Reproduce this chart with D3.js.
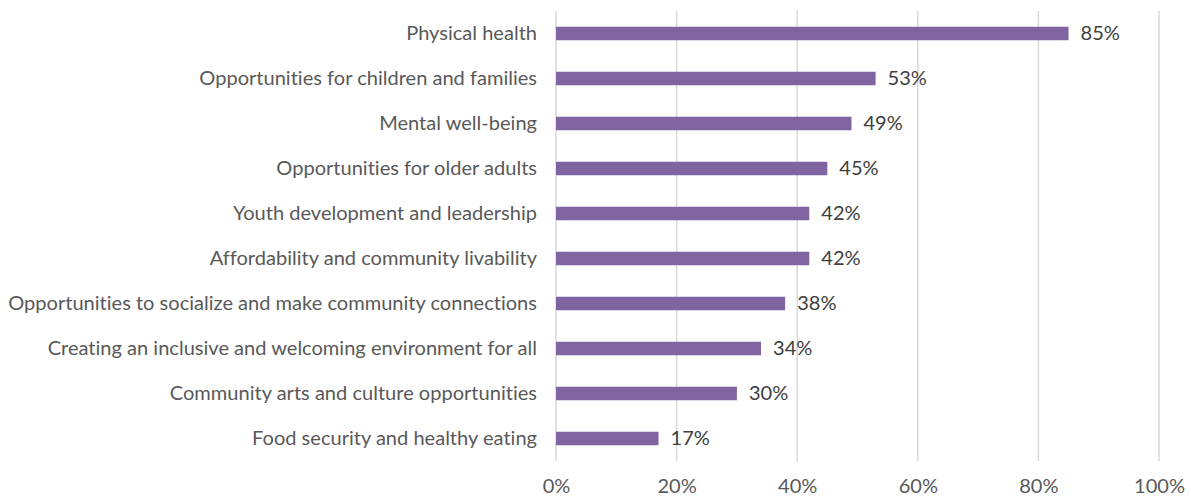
<!DOCTYPE html>
<html>
<head>
<meta charset="utf-8">
<script src="https://cdn.jsdelivr.net/npm/d3@7"></script>
<style>
  html, body { margin: 0; padding: 0; background: #ffffff; }
  svg { display: block; }
  text { font-family: "Lato", "Open Sans", sans-serif; font-variant-ligatures: none; }
</style>
</head>
<body>
<svg id="chart" width="1191" height="499"></svg>
<script>
// Share of respondents choosing each priority area
const categories = [
  "Physical health",
  "Opportunities for children and families",
  "Mental well-being",
  "Opportunities for older adults",
  "Youth development and leadership",
  "Affordability and community livability",
  "Opportunities to socialize and make community connections",
  "Creating an inclusive and welcoming environment for all",
  "Community arts and culture opportunities",
  "Food security and healthy eating"
];
const values = [85, 53, 49, 45, 42, 42, 38, 34, 30, 17];
const tickValues = [0, 20, 40, 60, 80, 100];
const tickLabels = ["0%", "20%", "40%", "60%", "80%", "100%"];

const W = 1191, H = 499;
const margin = { top: 11, right: 32, bottom: 38, left: 556 };
const svg = d3.select("#chart");

const x = d3.scaleLinear().domain([0, 100]).range([margin.left, W - margin.right]);
const y = d3.scaleBand()
  .domain(categories)
  .range([margin.top, H - margin.bottom])
  .paddingInner(0.7)
  .paddingOuter(0.35);

// vertical gridlines
svg.append("g")
  .selectAll("line")
  .data(tickValues)
  .join("line")
  .attr("x1", d => x(d)).attr("x2", d => x(d))
  .attr("y1", margin.top).attr("y2", H - margin.bottom)
  .attr("stroke", "#d9d9d9")
  .attr("stroke-width", 1.5);

// bars
svg.append("g")
  .selectAll("rect")
  .data(values)
  .join("rect")
  .attr("x", x(0))
  .attr("y", (d, i) => y(categories[i]))
  .attr("width", d => x(d) - x(0))
  .attr("height", y.bandwidth())
  .attr("fill", "#8064a2");

// category labels, sized so the longest fits the left margin
const labelG = svg.append("g");
const catText = labelG.selectAll("text")
  .data(categories)
  .join("text")
  .attr("x", margin.left - 19)
  .attr("y", d => y(d) + y.bandwidth() / 2)
  .attr("dy", "0.33em")
  .attr("text-anchor", "end")
  .attr("fill", "#595959")
  .attr("font-size", 17)
  .text(d => d);

let maxW = 0;
catText.each(function () { maxW = Math.max(maxW, this.getComputedTextLength()); });
const fontSize = 17 * 529 / maxW;
catText.attr("font-size", fontSize);

// value labels
svg.append("g")
  .selectAll("text")
  .data(values)
  .join("text")
  .attr("x", d => x(d) + 12)
  .attr("y", (d, i) => y(categories[i]) + y.bandwidth() / 2)
  .attr("dy", "0.33em")
  .attr("fill", "#404040")
  .attr("font-size", fontSize)
  .text(d => d + "%");

// x axis tick labels
const xAxis = d3.axisBottom(x)
  .tickValues(tickValues)
  .tickFormat((d, i) => tickLabels[i])
  .tickSize(0)
  .tickPadding(0);
const axG = svg.append("g")
  .attr("transform", `translate(0, ${H - margin.bottom + 18})`)
  .call(xAxis);
axG.select(".domain").remove();
axG.selectAll("text")
  .attr("fill", "#595959")
  .attr("font-size", fontSize)
  .attr("font-family", "Lato, 'Open Sans', sans-serif");
</script>
</body>
</html>
